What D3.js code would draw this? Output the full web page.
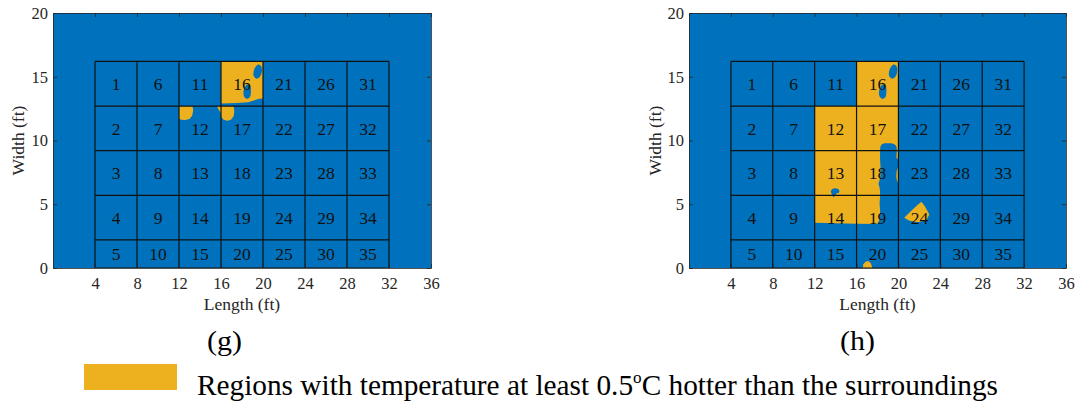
<!DOCTYPE html>
<html>
<head>
<meta charset="utf-8">
<script src="https://cdn.jsdelivr.net/npm/d3@7"></script>
<style>
  body { margin: 0; background: #fff; }
  text { font-family: "Liberation Serif", "Times New Roman", serif; }
</style>
</head>
<body>
<div id="chart"></div>
<script>
// axis ticks
var xTicks = [4, 8, 12, 16, 20, 24, 28, 32, 36];
var yTicks = [0, 5, 10, 15, 20];
// grid of numbered cells (ft)
var colEdges = [4, 8, 12, 16, 20, 24, 28, 32];
var rowEdges = [16.2, 12.7, 9.2, 5.7, 2.2, 0];
var panelNames = ["(g)", "(h)"];
var legendText = "Regions with temperature at least 0.5";

// hot regions (polygons in ft) and cooler spots inside them, panel (g)
var hotG = [
  [[16,16.2],[20,16.2],[20,13.3],[19.6,13.28],[19.2,13.15],[18.6,13.0],[17.5,12.95],[16,12.9]],
  [[12,12.7],[13.3,12.7],[13.35,12.35],[13.25,11.95],[13.0,11.68],[12.6,11.6],[12.2,11.62],[12,11.7]],
  [[15.6,12.7],[17.2,12.7],[17.27,12.3],[17.2,11.9],[16.95,11.62],[16.6,11.55],[16.25,11.62],[16.02,11.85],[15.95,12.2],[15.8,12.4]]
];
var coldG = [
  [[19.5,15.95],[19.8,15.85],[19.9,15.5],[19.7,15.0],[19.4,14.85],[19.12,15.05],[19.15,15.55]],
  [[18.5,14.4],[18.8,14.2],[18.85,13.8],[18.75,13.4],[18.45,13.28],[18.18,13.5],[18.18,14.0]]
];
// panel (h)
var hotH = [
  [[12,12.7],[16,12.7],[16,16.2],[20,16.2],[20,3.6],[18.0,3.45],[16,3.47],[12,3.55]],
  [[20.55,3.95],[21.3,4.55],[21.9,5.0],[22.2,5.2],[22.55,4.8],[22.95,4.2],[22.65,3.72],[21.8,3.58],[21.0,3.72]],
  [[16.6,0],[16.65,0.3],[16.85,0.5],[17.1,0.55],[17.35,0.4],[17.45,0.15],[17.5,0]]
];
var coldH = [
  [[19.5,15.95],[19.8,15.85],[19.9,15.5],[19.7,15.0],[19.4,14.85],[19.12,15.05],[19.15,15.55]],
  [[18.5,14.4],[18.8,14.2],[18.85,13.8],[18.75,13.4],[18.45,13.28],[18.18,13.5],[18.18,14.0]],
  [[13.55,6.0],[13.7,6.2],[14.0,6.25],[14.3,6.15],[14.35,5.95],[14.1,5.85],[13.95,5.7],[13.8,5.55],[13.7,5.7]],
  [[18.3,9.55],[18.45,9.72],[18.8,9.78],[19.5,9.75],[19.75,9.6],[19.85,9.3],[19.85,8.6],[20.1,8.5],[20.1,7.95],
   [19.95,7.85],[19.82,7.5],[19.82,7.0],[19.95,6.7],[20.1,6.55],[20.1,3.3],[17.9,3.3],[18.1,3.6],[18.2,3.9],
   [18.25,4.5],[18.2,5.0],[18.25,5.7],[18.2,6.3],[18.1,6.6],[18.2,6.9],[18.3,7.5],[18.25,8.5],[18.25,9.2]]
];

var blue = "#0072BD", yellow = "#EDB120", ink = "#262626";

var svg = d3.select("#chart").append("svg")
    .attr("width", 1080)
    .attr("height", 402);

var panels = [
  { name: panelNames[0], left: 53, right: 431, hot: hotG, cold: coldG, ylab: 24, lab: 224 },
  { name: panelNames[1], left: 689, right: 1066, hot: hotH, cold: coldH, ylab: 661, lab: 857 }
];
var plotTop = 13, plotBottom = 268;

panels.forEach(function(p, pi) {
  var x = d3.scaleLinear().domain([0, 36]).range([p.left, p.right]);
  var y = d3.scaleLinear().domain([0, 20]).range([plotBottom, plotTop]);
  var line = d3.line()
      .x(function(d) { return x(d[0]); })
      .y(function(d) { return y(d[1]); })
      .curve(d3.curveLinearClosed);

  var clipId = "clip" + pi;
  svg.append("clipPath").attr("id", clipId)
    .append("rect")
      .attr("x", x(0)).attr("y", y(20))
      .attr("width", x(36) - x(0)).attr("height", y(0) - y(20));

  var g = svg.append("g").attr("clip-path", "url(#" + clipId + ")");

  // background (surroundings)
  g.append("rect")
      .attr("x", x(0)).attr("y", y(20))
      .attr("width", x(36) - x(0)).attr("height", y(0) - y(20))
      .attr("fill", blue);

  // hotter regions
  g.selectAll(".hot").data(p.hot).enter().append("path")
      .attr("class", "hot")
      .attr("d", line)
      .attr("fill", yellow);
  g.selectAll(".cold").data(p.cold).enter().append("path")
      .attr("class", "cold")
      .attr("d", d3.line()
          .x(function(d) { return x(d[0]); })
          .y(function(d) { return y(d[1]); })
          .curve(d3.curveCatmullRomClosed))
      .attr("fill", blue);

  // cell grid
  colEdges.forEach(function(c) {
    g.append("line")
        .attr("x1", x(c)).attr("x2", x(c))
        .attr("y1", y(rowEdges[0])).attr("y2", y(0))
        .attr("stroke", "#111").attr("stroke-width", 1.2);
  });
  rowEdges.forEach(function(r) {
    g.append("line")
        .attr("x1", x(colEdges[0])).attr("x2", x(colEdges[colEdges.length - 1]))
        .attr("y1", y(r)).attr("y2", y(r))
        .attr("stroke", "#111").attr("stroke-width", 1.2);
  });

  // cell numbers (column-major)
  var cells = [];
  for (var i = 0; i < colEdges.length - 1; i++) {
    for (var j = 0; j < rowEdges.length - 1; j++) {
      cells.push({ n: i * 5 + j + 1,
        cx: (colEdges[i] + colEdges[i + 1]) / 2,
        cy: (rowEdges[j] + rowEdges[j + 1]) / 2 });
    }
  }
  svg.append("g").selectAll("text").data(cells).enter().append("text")
      .attr("x", function(d) { return x(d.cx); })
      .attr("y", function(d) { return y(d.cy); })
      .attr("dy", "0.35em")
      .attr("text-anchor", "middle")
      .attr("font-size", 17.5)
      .attr("fill", "#111")
      .text(function(d) { return d.n; });

  // axes with inward ticks
  var ax = svg.append("g").attr("transform", "translate(0," + plotBottom + ")")
      .call(d3.axisBottom(x).tickValues(xTicks).tickSizeInner(-4).tickSizeOuter(0).tickPadding(9));
  var ay = svg.append("g").attr("transform", "translate(" + p.left + ",0)")
      .call(d3.axisLeft(y).tickValues(yTicks).tickSizeInner(-4).tickSizeOuter(0).tickPadding(5));
  var at = svg.append("g").attr("transform", "translate(0," + plotTop + ")")
      .call(d3.axisTop(x).tickValues(xTicks).tickSizeInner(-4).tickSizeOuter(0).tickFormat(""));
  var ar = svg.append("g").attr("transform", "translate(" + p.right + ",0)")
      .call(d3.axisRight(y).tickValues(yTicks).tickSizeInner(-4).tickSizeOuter(0).tickFormat(""));
  [ax, ay, at, ar].forEach(function(a) {
    a.select(".domain").attr("stroke", ink).attr("stroke-width", 0.8);
    a.selectAll(".tick line").attr("stroke", ink).attr("stroke-width", 0.8);
    a.selectAll(".tick text")
        .attr("font-family", "Liberation Serif, serif")
        .attr("font-size", 16.5)
        .attr("fill", ink);
  });

  // axis titles
  svg.append("text")
      .attr("x", (p.left + p.right) / 2).attr("y", 310)
      .attr("text-anchor", "middle")
      .attr("font-size", 17.5)
      .attr("fill", ink)
      .text("Length (ft)");
  svg.append("text")
      .attr("transform", "translate(" + p.ylab + "," + (plotTop + plotBottom) / 2 + ") rotate(-90)")
      .attr("text-anchor", "middle")
      .attr("font-size", 17.5)
      .attr("fill", ink)
      .text("Width (ft)");

  // panel label
  svg.append("text")
      .attr("x", p.lab - 17).attr("y", 350)
      .attr("font-size", 27)
      .attr("textLength", 35)
      .attr("lengthAdjust", "spacingAndGlyphs")
      .attr("fill", "#000")
      .text(p.name);
});

// legend
svg.append("rect")
    .attr("x", 84).attr("y", 364)
    .attr("width", 93).attr("height", 26)
    .attr("fill", yellow);
var lt = svg.append("text")
    .attr("x", 197).attr("y", 395)
    .attr("font-size", 29)
    .attr("textLength", 801)
    .attr("lengthAdjust", "spacingAndGlyphs")
    .attr("fill", "#000");
lt.append("tspan").text(legendText);
lt.append("tspan").attr("font-size", 17).attr("dy", -12).text("o");
lt.append("tspan").attr("dy", 12).text("C hotter than the surroundings");
</script>
</body>
</html>
